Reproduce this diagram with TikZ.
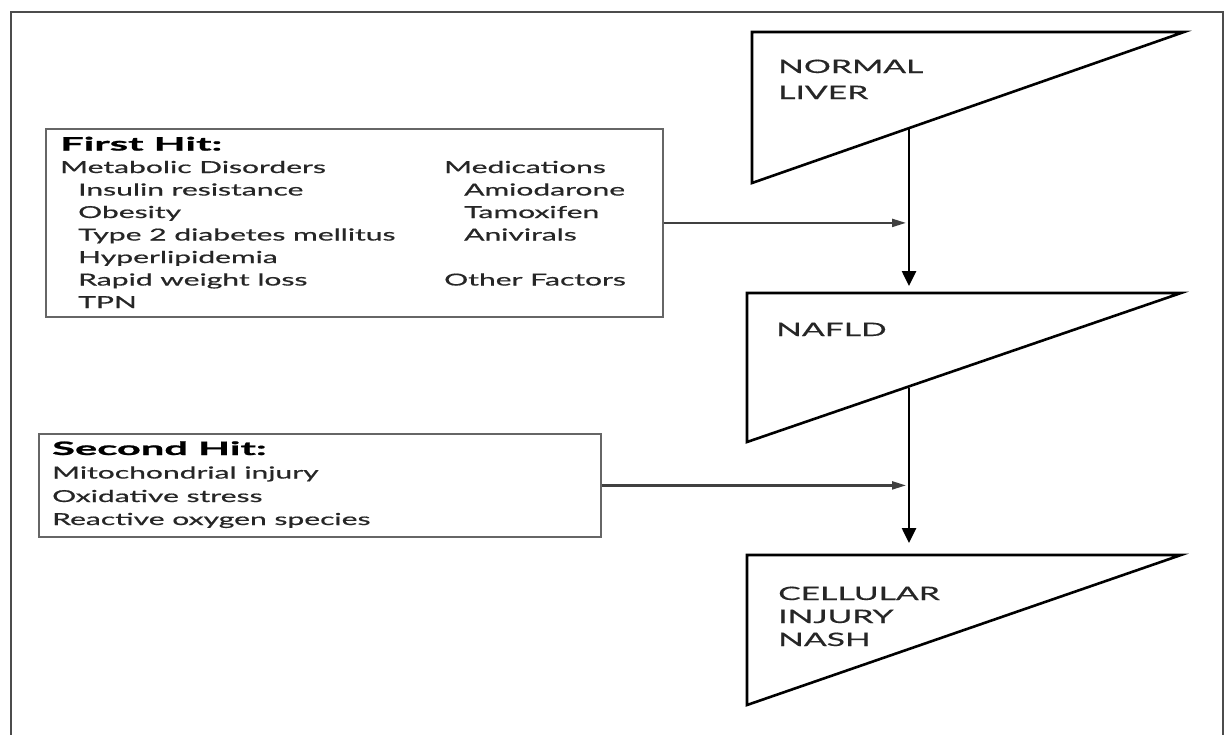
\documentclass[tikz,border=0pt]{standalone}
\usepackage{fontspec}
\setmainfont{Lato}
\newfontfamily\widefont[FakeStretch=1.82, FakeBold=0.7]{Lato}
\newfontfamily\stagefont[FakeStretch=1.82, FakeBold=0.5]{Lato}
\newfontfamily\headfont[FakeStretch=2.25, FakeBold=1.2]{Lato Bold}
\usetikzlibrary{arrows.meta}
\tikzset{
  frameline/.style={line width=2.6pt, draw=black!70},
  hitbox/.style={draw=black!60, line width=1.8pt, fill=white},
  stage/.style={draw=black, line width=2.6pt, line join=miter},
  flow/.style={line width=2.6pt, draw=black, -{Triangle[length=15pt,width=14pt]}},
  feed/.style={line width=2.2pt, draw=black!75, -{Triangle[length=14pt,width=8pt]}},
  txt/.style={anchor=base west, inner sep=0pt, text=black!85, font=\widefont\fontsize{16.5}{20}\selectfont},
  hd/.style={anchor=base west, inner sep=0pt, text=black, font=\headfont\fontsize{18.5}{22}\selectfont},
  stagetxt/.style={anchor=base west, inner sep=0pt, text=black!85, font=\stagefont\fontsize{18.5}{22}\selectfont}
}
\begin{document}
\begin{tikzpicture}[x=1pt,y=-1pt]
\useasboundingbox (0,0) rectangle (1226,734);
\fill[white] (0,0) rectangle (1226,734);
% outer frame
\draw[frameline] (11,736) -- (11,12) -- (1223,12) -- (1223,736);

% stages (triangles)
\draw[stage] (752,32) -- (1184,32) -- (752,183) -- cycle;
\draw[stage] (747,293) -- (1181,293) -- (747,442) -- cycle;
\draw[stage] (747,555) -- (1181,555) -- (747,705) -- cycle;

\node[stagetxt] (normal) at (778,73) {NORMAL};
\node[stagetxt] (liver) at (778,99) {LIVER};
\node[stagetxt] (nafld) at (776,336) {NAFLD};
\node[stagetxt] (cell) at (778,600) {CELLULAR};
\node[stagetxt] (inj) at (778,623) {INJURY};
\node[stagetxt] (nash) at (778,646) {NASH};

% connection points
\coordinate (d1) at (909,127);
\coordinate (t2) at (909,293);
\coordinate (d2) at (909,388);
\coordinate (t3) at (909,555);

% first hit box
\node[hitbox, minimum width=617pt, minimum height=188pt, anchor=north west, inner sep=0pt] (hit1) at (45,128) {};
\node[hd]  (h1)  at (60,150.5) {First Hit:};
\node[txt] (m0)  at (60,173) {Metabolic Disorders};
\node[txt] (m1)  at (78,195.5) {Insulin resistance};
\node[txt] (m2)  at (78,218) {Obesity};
\node[txt] (m3)  at (78,240.5) {Type 2 diabetes mellitus};
\node[txt] (m4)  at (78,263) {Hyperlipidemia};
\node[txt] (m5)  at (78,285.5) {Rapid weight loss};
\node[txt] (m6)  at (78,308) {TPN};
\node[txt] (r0)  at (444,173) {Medications};
\node[txt] (r1)  at (464,195.5) {Amiodarone};
\node[txt] (r2)  at (464,218) {Tamoxifen};
\node[txt] (r3)  at (464,240.5) {Anivirals};
\node[txt] (r4)  at (444,285.5) {Other Factors};

% second hit box
\node[hitbox, minimum width=562pt, minimum height=103pt, anchor=north west, inner sep=0pt] (hit2) at (38,433) {};
\node[hd]  (h2) at (52,455) {Second Hit:};
\node[txt] (s1) at (52,478.5) {Mitochondrial injury};
\node[txt] (s2) at (52,502) {Oxidative stress};
\node[txt] (s3) at (52,525) {Reactive oxygen species};

% connectors
\draw[flow, shorten >=7pt] (d1) -- (t2);
\draw[flow, shorten >=12pt] (d2) -- (t3);
\draw[feed, shorten >=3pt] (hit1.east) -- (hit1.east -| d1);
\draw[feed, shorten >=3pt] (hit2.east) -- (hit2.east -| d2);
\end{tikzpicture}
\end{document}
